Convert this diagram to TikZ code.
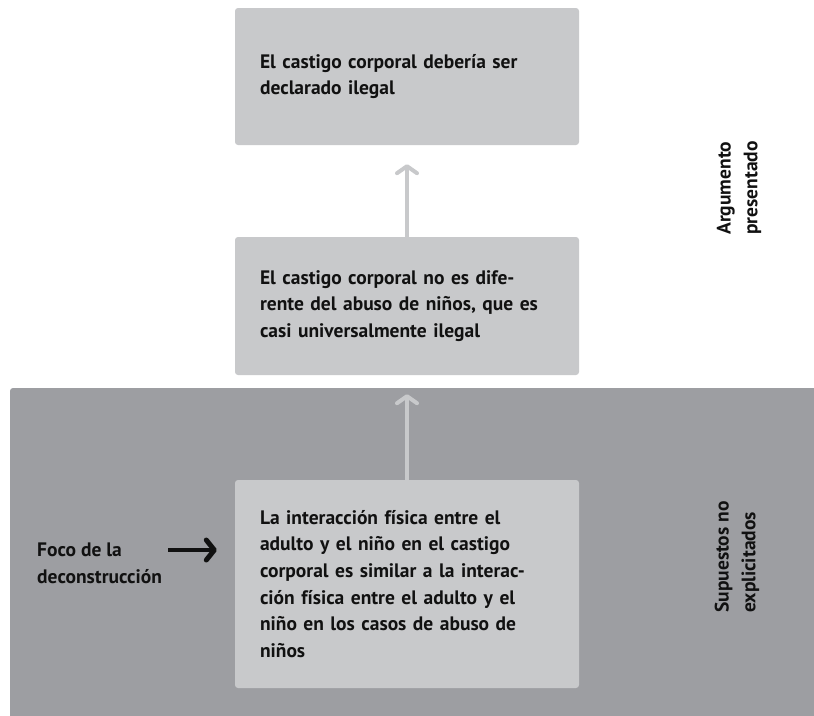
\documentclass[tikz,border=0pt]{standalone}
\usepackage{fontspec}
\setmainfont{PT Sans}
\usetikzlibrary{arrows.meta,positioning}
\definecolor{boxgray}{HTML}{C8C9CB}
\definecolor{bandgray}{HTML}{9D9EA2}
\definecolor{inkblack}{HTML}{111111}
\begin{document}
\begin{tikzpicture}
[x=1pt,y=-1pt,
  claimbox/.style={fill=boxgray,rounded corners=3pt,minimum width=344pt,
    text width=294pt,inner xsep=25pt,inner ysep=0pt,align=left,text=inkblack,
    font=\bfseries\fontsize{19.5}{26.7}\selectfont},
  sidelabel/.style={inner sep=0pt,align=left,text=inkblack,
    font=\bfseries\fontsize{19.5}{26.7}\selectfont},
  uplink/.style={draw=boxgray,line width=4pt,shorten >=19pt,
    -{Straight Barb[length=7pt,width=20pt,line width=4pt,round]}},
  focuslink/.style={draw=inkblack,line width=4.5pt,shorten >=18pt,
    -{Straight Barb[length=8pt,width=20pt,line width=5pt,round]}}]
\useasboundingbox (0,0) rectangle (814,715);
%% band of the hidden assumptions
\fill[bandgray,rounded corners=3pt] (10,388) rectangle (830,730);
%% boxes
\node (top) at (407,76.5) [claimbox,minimum height=137pt]
  {El castigo corporal debería ser\\declarado ilegal};
\node (mid) at (407,306) [claimbox,minimum height=138pt]
  {El castigo corporal no es dife-\\rente del abuso de niños, que es\\casi universalmente ilegal};
\node (bottom) at (407,584) [claimbox,minimum height=208pt]
  {La interacción física entre el\\adulto y el niño en el castigo\\corporal es similar a la interac-\\ción física entre el adulto y el\\niño en los casos de abuso de\\niños};
%% labels
\node (focus) at (37,563) [sidelabel,anchor=west] {Foco de la\\deconstrucción};
\coordinate (focusstart) at (168,550);
\node (argument) at (739,188) [sidelabel,rotate=90] {Argumento\\presentado};
\node (assumption) at (737,557) [sidelabel,rotate=90] {Supuestos no\\explicitados};
%% connectors
\draw[uplink] (mid.north) -- (top.south);
\draw[uplink] (bottom.north) -- (mid.south);
\draw[focuslink] (focusstart) -- (focusstart -| bottom.west);
\end{tikzpicture}
\end{document}
